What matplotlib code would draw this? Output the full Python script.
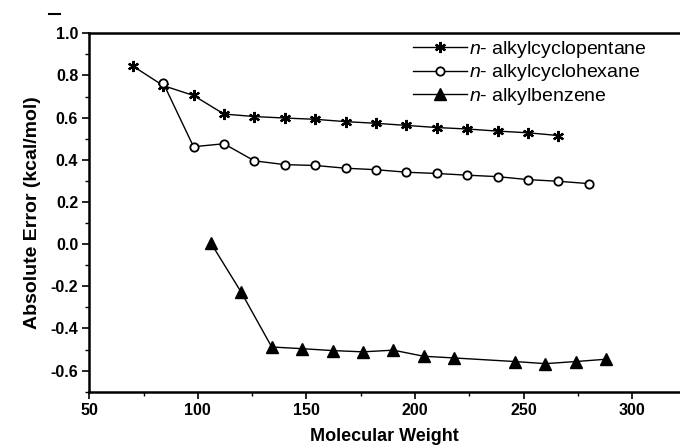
import matplotlib
matplotlib.use("Agg")
import matplotlib.pyplot as plt
from matplotlib.ticker import MultipleLocator, FormatStrFormatter
from matplotlib.lines import Line2D

plt.rcParams['font.family'] = ['Liberation Sans', 'DejaVu Sans']
plt.rcParams['mathtext.fontset'] = 'custom'
plt.rcParams['mathtext.rm'] = 'Liberation Sans'
plt.rcParams['mathtext.it'] = 'Liberation Sans:italic'

# Data
mw_pentane = [70, 84, 98, 112, 126, 140, 154, 168, 182, 196, 210, 224, 238, 252, 266]
err_pentane = [0.845, 0.752, 0.705, 0.617, 0.605, 0.598, 0.592, 0.581, 0.573, 0.563,
               0.553, 0.546, 0.536, 0.528, 0.515]

mw_hexane = [84, 98, 112, 126, 140, 154, 168, 182, 196, 210, 224, 238, 252, 266, 280]
err_hexane = [0.765, 0.462, 0.476, 0.395, 0.377, 0.373, 0.360, 0.353, 0.341, 0.335,
              0.327, 0.320, 0.306, 0.298, 0.287]

mw_benzene = [106, 120, 134, 148, 162, 176, 190, 204, 218, 246, 260, 274, 288]
err_benzene = [0.005, -0.229, -0.488, -0.496, -0.505, -0.511, -0.503, -0.532, -0.540,
               -0.557, -0.567, -0.557, -0.546]

labels = [r'$n$- alkylcyclopentane', r'$n$- alkylcyclohexane', r'$n$- alkylbenzene']

fig = plt.figure(figsize=(6.8, 4.45), dpi=100)
ax = fig.add_axes([0.1313, 0.1198, 0.8687, 0.8054])

ax.plot(mw_pentane, err_pentane, color='black', lw=1.0, marker=(6, 2, 0),
        ms=8, mew=1.6, label=labels[0])
ax.plot(mw_hexane, err_hexane, color='black', lw=1.0, marker='o', ms=6,
        mfc='white', mec='black', mew=1.3, label=labels[1])
ax.plot(mw_benzene, err_benzene, color='black', lw=1.0, marker='^', ms=8,
        mfc='black', mec='black', label=labels[2])

ax.set_xlim(50, 322)
ax.set_ylim(-0.7, 1.0)
ax.xaxis.set_major_locator(MultipleLocator(50))
ax.xaxis.set_minor_locator(MultipleLocator(25))
ax.yaxis.set_major_locator(MultipleLocator(0.2))
ax.yaxis.set_minor_locator(MultipleLocator(0.1))
ax.yaxis.set_major_formatter(FormatStrFormatter('%.1f'))

for s in ['left', 'bottom', 'top']:
    ax.spines[s].set_linewidth(1.8)
ax.spines['right'].set_visible(False)

ax.tick_params(which='major', direction='out', length=5, width=1.2,
               labelsize=11.5, top=False, right=False, pad=3)
ax.tick_params(which='minor', direction='out', length=3, width=1.0,
               top=False, right=False)
for lab in ax.get_xticklabels() + ax.get_yticklabels():
    lab.set_fontweight('bold')

ax.set_xlabel('Molecular Weight', fontsize=13, fontweight='bold', labelpad=7)
ax.set_ylabel('Absolute Error (kcal/mol)', fontsize=14, fontweight='bold', labelpad=7)

leg = ax.legend(loc='upper left', bbox_to_anchor=(0.548, 0.985), frameon=False,
                fontsize=14, handlelength=2.8, handletextpad=0.1,
                labelspacing=0.14, borderaxespad=0.0, borderpad=0.0)

fig.add_artist(Line2D([0.072, 0.088], [0.968, 0.968], color='black', lw=1.5,
                      transform=fig.transFigure))

fig.savefig('out.png', dpi=100)
